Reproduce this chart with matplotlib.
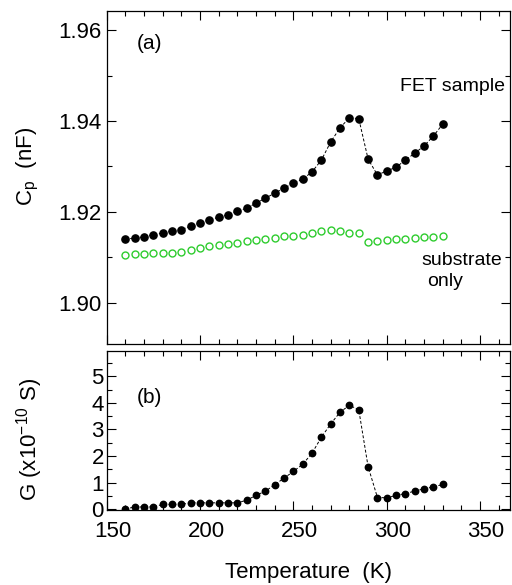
import matplotlib
matplotlib.use('Agg')
import matplotlib.pyplot as plt
from matplotlib.ticker import MultipleLocator
from matplotlib.transforms import ScaledTranslation

plt.rcParams['font.family'] = ['Liberation Sans', 'DejaVu Sans']
plt.rcParams['mathtext.fontset'] = 'custom'
plt.rcParams['mathtext.rm'] = 'Liberation Sans'
plt.rcParams['mathtext.it'] = 'Liberation Sans:italic'

# temperature (K)
temp = [160, 165, 170, 175, 180, 185, 190, 195, 200, 205, 210, 215, 220, 225, 230,
        235, 240, 245, 250, 255, 260, 265, 270, 275, 280, 285, 290, 295, 300, 305,
        310, 315, 320, 325, 330]

# Cp of FET sample (nF)
cp_fet = [1.9140, 1.9142, 1.9145, 1.9150, 1.9153, 1.9158, 1.9161, 1.9168, 1.9176, 1.9182,
          1.9188, 1.9194, 1.9201, 1.9208, 1.9219, 1.9230, 1.9241, 1.9252, 1.9263, 1.9272,
          1.9288, 1.9314, 1.9354, 1.9385, 1.9407, 1.9405, 1.9316, 1.9281, 1.9290, 1.9298,
          1.9314, 1.9329, 1.9345, 1.9367, 1.9393]

# Cp of substrate only (nF)
cp_sub = [1.9105, 1.9107, 1.9107, 1.9109, 1.9109, 1.9110, 1.9112, 1.9116, 1.9120, 1.9124,
          1.9126, 1.9129, 1.9131, 1.9135, 1.9137, 1.9140, 1.9143, 1.9147, 1.9147, 1.9149,
          1.9153, 1.9158, 1.9161, 1.9157, 1.9154, 1.9154, 1.9134, 1.9135, 1.9138, 1.9140,
          1.9140, 1.9142, 1.9144, 1.9145, 1.9147]

# conductance G (x1e-10 S)
g_fet = [0.00, 0.09, 0.08, 0.09, 0.18, 0.18, 0.18, 0.24, 0.24, 0.24,
         0.24, 0.24, 0.24, 0.34, 0.52, 0.68, 0.92, 1.17, 1.42, 1.69,
         2.11, 2.71, 3.21, 3.65, 3.91, 3.74, 1.60, 0.44, 0.43, 0.52,
         0.59, 0.68, 0.77, 0.84, 0.93]

fig = plt.figure(figsize=(5.12, 5.85), dpi=100)
ax1 = fig.add_axes([0.2084, 0.4120, 0.7877, 0.5692])
ax2 = fig.add_axes([0.2084, 0.1282, 0.7877, 0.2718])

ax1.plot(temp, cp_fet, color='black', ls=(0, (3, 2)), lw=0.7,
         marker='o', ms=5.2, mfc='black', mec='black')
ax1.plot(temp, cp_sub, ls='none', marker='o', ms=5, mfc='none',
         mec='#2ecc2e', mew=1.0)
ax2.plot(temp, g_fet, color='black', ls=(0, (3, 2)), lw=0.7,
         marker='o', ms=4.6, mfc='black', mec='black')

ax1.set_xlim(150, 366)
ax1.set_ylim(1.8909, 1.9642)
ax2.set_xlim(150, 366)
ax2.set_ylim(-0.03, 5.95)

ax1.yaxis.set_major_locator(MultipleLocator(0.02))
ax1.yaxis.set_minor_locator(MultipleLocator(0.01))
ax1.yaxis.set_major_formatter(plt.FormatStrFormatter('%.2f'))
ax2.yaxis.set_major_locator(MultipleLocator(1))
ax2.yaxis.set_minor_locator(MultipleLocator(0.5))
for ax in (ax1, ax2):
    ax.xaxis.set_major_locator(MultipleLocator(50))
    ax.xaxis.set_minor_locator(MultipleLocator(10))
    ax.tick_params(which='both', direction='in', top=True, right=True, labelsize=16)
    ax.tick_params(which='major', length=6.5, width=0.8)
    ax.tick_params(which='minor', length=3.6, width=0.8)
    for s in ax.spines.values():
        s.set_linewidth(0.9)
ax1.tick_params(labelbottom=False)
ax2.tick_params(axis='y', pad=2)
ax2.tick_params(axis='x', pad=8)

# x tick labels sit a little right of their ticks in the original
shift = ScaledTranslation(6 / 100, 0, fig.dpi_scale_trans)
for lab in ax2.get_xticklabels():
    lab.set_transform(lab.get_transform() + shift)

ax1.text(0.075, 0.885, '(a)', transform=ax1.transAxes, fontsize=15)
ax2.text(0.075, 0.67, '(b)', transform=ax2.transAxes, fontsize=15)
ax1.text(335, 1.9475, 'FET sample', fontsize=14, ha='center', va='center')
ax1.text(318.5, 1.9092, 'substrate', fontsize=14, va='center')
ax1.text(321.5, 1.9046, 'only', fontsize=14, va='center')

fig.text(0.054, 0.716, r'C$_\mathregular{p}$  (nF)', rotation=90, fontsize=16,
         ha='center', va='center')
fig.text(0.058, 0.248, r'G (x10$^\mathregular{-10}$ S)', rotation=90, fontsize=16,
         ha='center', va='center')
ax2.set_xlabel('Temperature  (K)', fontsize=16, labelpad=14)

fig.savefig('out.png', dpi=100)
